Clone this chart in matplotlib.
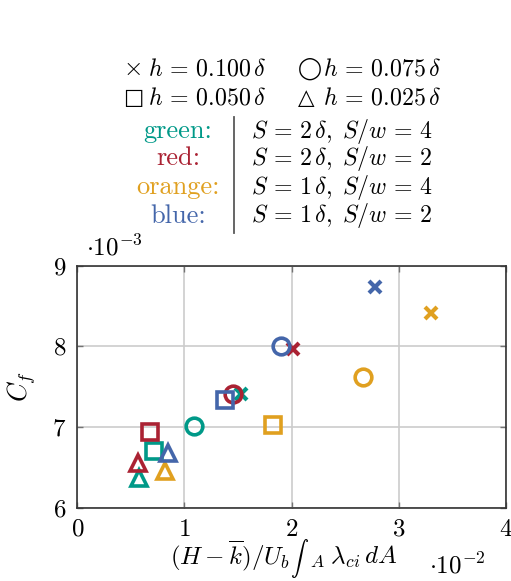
import matplotlib
matplotlib.use("Agg")
import matplotlib.pyplot as plt
from matplotlib.lines import Line2D
from matplotlib.offsetbox import TextArea, HPacker, AnchoredOffsetbox

plt.rcParams["mathtext.fontset"] = "cm"
plt.rcParams["font.family"] = "serif"
plt.rcParams["font.serif"] = ["cmr10", "DejaVu Serif"]

# x in units of 1e-2, y (C_f) in units of 1e-3
configs = ["green", "red", "orange", "blue"]
colors = {"green": "#009988", "red": "#AA2233", "orange": "#E0A020", "blue": "#4466AA"}
config_labels = [r"$S\,=\,2\,\delta,\;S/w\,=\,4$", r"$S\,=\,2\,\delta,\;S/w\,=\,2$",
                 r"$S\,=\,1\,\delta,\;S/w\,=\,4$", r"$S\,=\,1\,\delta,\;S/w\,=\,2$"]
heights = ["0.100", "0.075", "0.050", "0.025"]
symbols = [r"$\times$", "\u25ef", "\u25a1", "\u25b3"]
markers = ["x", "o", "s", "^"]

x_vals = {
    "green":  [1.53, 1.09, 0.72, 0.58],
    "red":    [2.01, 1.45, 0.68, 0.57],
    "orange": [3.30, 2.67, 1.83, 0.82],
    "blue":   [2.78, 1.90, 1.38, 0.85],
}
y_vals = {
    "green":  [7.41, 7.01, 6.70, 6.37],
    "red":    [7.97, 7.41, 6.94, 6.55],
    "orange": [8.41, 7.62, 7.03, 6.45],
    "blue":   [8.74, 8.01, 7.34, 6.68],
}

fig = plt.figure(figsize=(5.11, 5.81), dpi=100)
ax = fig.add_axes([0.1513, 0.1262, 0.8387, 0.4165])

for i, m in enumerate(markers):
    for c in configs:
        if m == "x":
            ax.plot(x_vals[c][i], y_vals[c][i], marker="x", ms=8, mew=3,
                    color=colors[c], ls="none", zorder=3)
        else:
            ax.plot(x_vals[c][i], y_vals[c][i], marker=m, ms=12 if m == "o" else 11.5,
                    mew=2.6, mfc="none", mec=colors[c], ls="none", zorder=3)

ax.set_xlim(0, 4)
ax.set_ylim(6, 9)
ax.set_xticks([0, 1, 2, 3, 4])
ax.set_yticks([6, 7, 8, 9])
ax.set_xticklabels([f"${v}$" for v in [0, 1, 2, 3, 4]])
ax.set_yticklabels([f"${v}$" for v in [6, 7, 8, 9]])
ax.tick_params(direction="in", top=True, right=True, length=4, width=1,
               color="0.45", labelsize=18, pad=8)
ax.grid(True, color="0.8", lw=1.2)
ax.set_axisbelow(True)
for s in ax.spines.values():
    s.set_linewidth(1.2)
    s.set_color("0.2")

ax.set_ylabel(r"$C_f$", fontsize=19, labelpad=10)
ax.text(0.02, 1.02, r"$\cdot 10^{-3}$", transform=ax.transAxes, fontsize=18,
        ha="left", va="bottom")
ax.text(0.82, -0.185, r"$\cdot 10^{-2}$", transform=ax.transAxes, fontsize=18,
        ha="left", va="top")

W, H = 511, 581

# x label with a text-size integral sign
xl_parts = [
    TextArea(r"$(H-\overline{k})/U_b\;$", textprops=dict(fontsize=18)),
    TextArea(r"$\int$", textprops=dict(fontsize=13)),
    TextArea(r"${}_A\;\lambda_{ci}\,dA$", textprops=dict(fontsize=18)),
]
xl = HPacker(children=xl_parts, align="baseline", pad=0, sep=0)
fig.add_artist(AnchoredOffsetbox(loc="center", child=xl, pad=0, borderpad=0,
                                 frameon=False, bbox_to_anchor=(284 / W, 1 - 558 / H),
                                 bbox_transform=fig.transFigure))

# legend block at top
def ft(x, y, s, size=17.2, **kw):
    fig.text(x / W, 1 - y / H, s, fontsize=size, va="center", **kw)

sym_pos = [(123, 69), (298, 69), (123, 98), (298, 98)]
for sym, hh, (px, py) in zip(symbols, heights, sym_pos):
    if sym.startswith("$"):
        ft(px, py, sym, size=18)
    else:
        ft(px, py, sym, size=15.5, family="DejaVu Sans")
    ft(px + 25, py, r"$h\,=\," + hh + r"\,\delta$")

row_y = [131, 158, 187, 216]
for c, lab, yy in zip(configs, config_labels, row_y):
    ft(178, yy, c + ":", size=19, ha="center", color=colors[c])
    ft(251, yy, lab)
fig.add_artist(Line2D([234 / W, 234 / W], [1 - 117 / H, 1 - 233 / H],
                      color="0.35", lw=1.3))

fig.savefig("out.png", dpi=100)
